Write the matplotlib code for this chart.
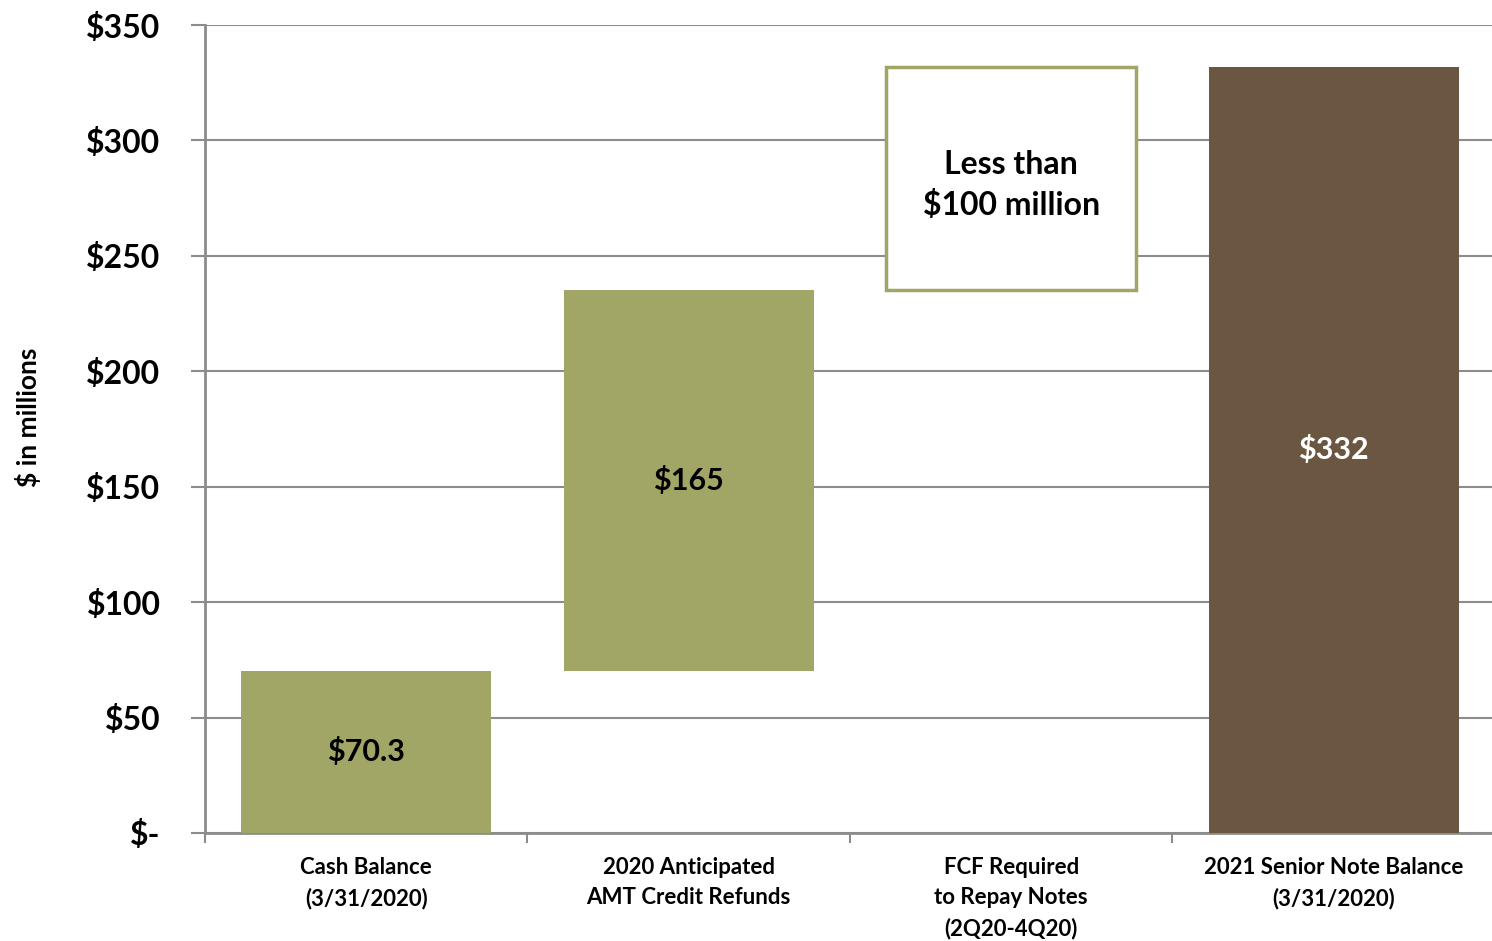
import matplotlib
matplotlib.use("Agg")
import numpy as np
import matplotlib.pyplot as plt

plt.rcParams['font.family'] = ['Lato', 'DejaVu Sans']
plt.rcParams['font.weight'] = 'bold'

categories = ["Cash Balance\n(3/31/2020)",
              "2020 Anticipated\nAMT Credit Refunds",
              "FCF Required\nto Repay Notes\n(2Q20-4Q20)",
              "2021 Senior Note Balance\n(3/31/2020)"]
cash = 70.3
amt_refunds = 165
senior_notes = 332
bar_labels = ["$70.3", "$165", None, "$332"]
box_text = "Less than\n$100 million"
yticks = [0, 50, 100, 150, 200, 250, 300, 350]
ytick_labels = ["$-", "$50", "$100", "$150", "$200", "$250", "$300", "$350"]

olive = "#A1A566"
brown = "#6B5642"
grid_gray = "#8C8C8C"

fig = plt.figure(figsize=(14.92, 9.41), dpi=100)
ax = fig.add_axes([0.1374, 0.1148, 0.8646, 0.8586])

x = np.arange(len(categories))
width = 0.776
fcf_gap = senior_notes - cash - amt_refunds

bottoms = [0, cash, cash + amt_refunds, 0]
heights = [cash, amt_refunds, fcf_gap, senior_notes]

ax.bar(x[0], heights[0], width, bottom=bottoms[0], color=olive, zorder=3)
ax.bar(x[1], heights[1], width, bottom=bottoms[1], color=olive, zorder=3)
ax.bar(x[2], heights[2], width, bottom=bottoms[2], color="white",
       edgecolor=olive, linewidth=2.5, zorder=3)
ax.bar(x[3], heights[3], width, bottom=bottoms[3], color=brown, zorder=3)

for i, lab in enumerate(bar_labels):
    if lab is None:
        continue
    ax.text(x[i], bottoms[i] + heights[i] / 2, lab, ha="center", va="center",
            fontsize=22, fontweight="bold",
            color="white" if i == 3 else "black", zorder=4)

ax.text(x[2], bottoms[2] + heights[2] * 0.47, box_text, ha="center",
        va="center", fontsize=23, fontweight="bold", linespacing=1.45,
        zorder=4)

ax.set_xlim(-0.5, 3.5)
ax.set_ylim(0, 350)
ax.set_yticks(yticks)
ax.set_yticklabels(ytick_labels, fontsize=23, fontweight="bold")
ax.yaxis.grid(True, color=grid_gray, linewidth=1.5, zorder=0)
ax.tick_params(axis="y", length=10, width=1.5, color=grid_gray, pad=22)

ax.set_xticks([-0.5, 0.5, 1.5, 2.5])
ax.set_xticklabels([])
ax.set_xticks(x, minor=True)
ax.set_xticklabels(categories, minor=True, fontsize=16, fontweight="bold",
                   linespacing=1.55)
ax.tick_params(axis="x", which="major", length=7, width=1.5, color=grid_gray)
ax.tick_params(axis="x", which="minor", length=0, pad=17)

for side in ["top", "right"]:
    ax.spines[side].set_visible(False)
for side in ["left", "bottom"]:
    ax.spines[side].set_color(grid_gray)
    ax.spines[side].set_linewidth(2)

fig.text(0.019, 0.556, "$ in millions", rotation=90, ha="center", va="center",
         fontsize=19, fontweight="bold")

fig.savefig("out.png", dpi=100)
